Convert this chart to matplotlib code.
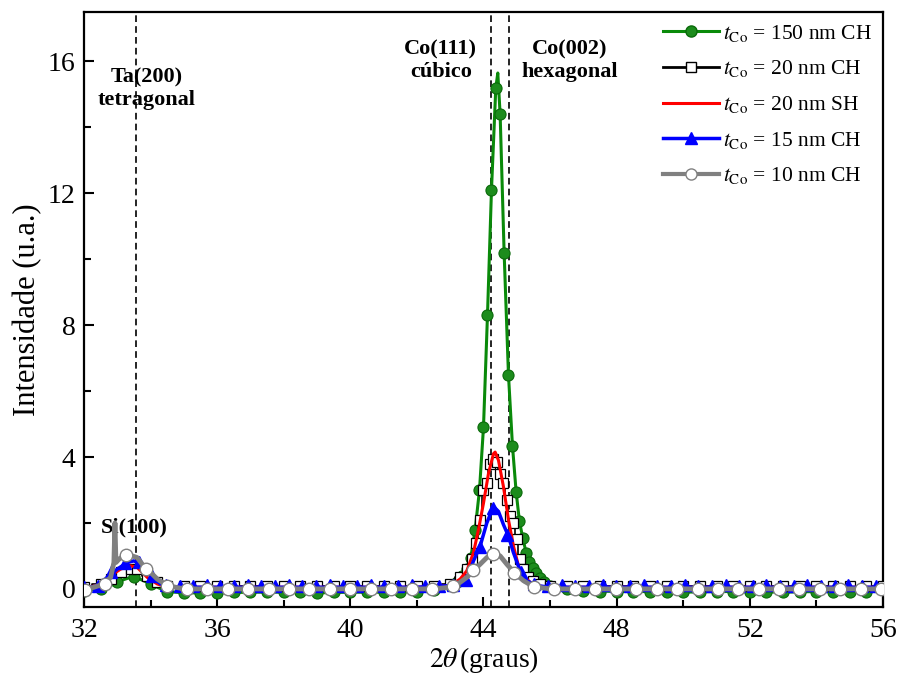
import numpy as np
import matplotlib
matplotlib.use('Agg')
import matplotlib.pyplot as plt

plt.rcParams['font.family'] = ['Liberation Serif', 'DejaVu Serif']
plt.rcParams['mathtext.fontset'] = 'stix'

# t_Co = 150 nm CH (verde)
verde_x = [32.0, 32.5, 32.8, 33.1, 33.4, 33.6, 33.9, 34.2, 34.5, 35.0, 36.0, 37.0, 38.0, 39.0, 40.0,
           41.0, 42.0, 42.6, 43.0, 43.2, 43.35, 43.5, 43.62, 43.75, 43.88, 44.0, 44.12, 44.24, 44.37,
           44.43, 44.5, 44.62, 44.75, 44.87, 44.98, 45.08, 45.18, 45.28, 45.38, 45.48, 45.58, 45.7,
           45.82, 46.0, 46.5, 47.0, 48.0, 49.0, 50.0, 51.0, 52.0, 53.0, 54.0, 55.0, 56.0]
verde_y = [-0.05, 0.0, 0.1, 0.25, 0.35, 0.33, 0.2, 0.05, -0.08, -0.12, -0.12, -0.1, -0.1, -0.12, -0.1,
           -0.1, -0.08, 0.0, 0.12, 0.22, 0.38, 0.6, 0.95, 1.8, 3.0, 4.9, 8.3, 12.1, 15.2,
           15.65, 14.4, 10.2, 6.5, 4.35, 2.95, 2.05, 1.55, 1.1, 0.83, 0.64, 0.48, 0.33,
           0.22, 0.1, 0.0, -0.05, -0.08, -0.08, -0.1, -0.08, -0.08, -0.1, -0.08, -0.08, -0.08]
verde_mx = [32.0, 32.5, 33.0, 33.5, 34.0, 34.5, 35.0, 35.5, 36.0, 36.5, 37.0, 37.5, 38.0, 38.5,
            39.0, 39.5, 40.0, 40.5, 41.0, 41.5, 42.0, 42.5, 43.0, 43.2, 43.35, 43.5, 43.62, 43.75,
            43.88, 44.0, 44.12, 44.24, 44.37, 44.5, 44.62, 44.75, 44.87, 44.98, 45.08, 45.18, 45.28,
            45.38, 45.48, 45.58, 45.7, 45.82, 46.0, 46.5, 47.0, 47.5, 48.0, 48.5, 49.0, 49.5, 50.0,
            50.5, 51.0, 51.5, 52.0, 52.5, 53.0, 53.5, 54.0, 54.5, 55.0, 55.5]
verde_my = [-0.05, 0.0, 0.2, 0.35, 0.15, -0.08, -0.12, -0.12, -0.12, -0.1, -0.1, -0.1, -0.1, -0.1,
            -0.12, -0.1, -0.1, -0.1, -0.1, -0.1, -0.08, -0.02, 0.12, 0.22, 0.38, 0.6, 0.95, 1.8,
            3.0, 4.9, 8.3, 12.1, 15.2, 14.4, 10.2, 6.5, 4.35, 2.95, 2.05, 1.55, 1.1,
            0.83, 0.64, 0.48, 0.33, 0.22, 0.1, 0.0, -0.05, -0.08, -0.08, -0.08, -0.08, -0.1, -0.1,
            -0.08, -0.08, -0.1, -0.08, -0.08, -0.1, -0.08, -0.08, -0.08, -0.08, -0.08]

# t_Co = 20 nm CH (preto)
preto_x = [32.0, 32.5, 32.8, 33.1, 33.4, 33.6, 33.9, 34.2, 34.5, 35.0, 35.5, 36.0, 36.5, 37.0, 37.5,
           38.0, 38.5, 39.0, 39.5, 40.0, 40.5, 41.0, 41.5, 42.0, 42.5, 43.0, 43.3, 43.5, 43.65,
           43.78, 43.9, 44.0, 44.1, 44.2, 44.3, 44.4, 44.5, 44.6, 44.7, 44.8, 44.9, 45.0, 45.1,
           45.2, 45.35, 45.5, 45.7, 46.0, 46.5, 47.0, 47.5, 48.0, 48.5, 49.0, 49.5, 50.0, 50.5,
           51.0, 51.5, 52.0, 52.5, 53.0, 53.5, 54.0, 54.5, 55.0, 55.5, 56.0]
preto_y = [0.05, 0.15, 0.3, 0.5, 0.6, 0.6, 0.4, 0.2, 0.1, 0.1, 0.1, 0.1, 0.1, 0.1, 0.1,
           0.1, 0.1, 0.1, 0.1, 0.1, 0.1, 0.1, 0.1, 0.1, 0.1, 0.15, 0.35, 0.6, 0.9,
           1.4, 2.1, 3.0, 3.2, 3.8, 3.95, 3.85, 3.5, 3.2, 2.7, 2.2, 2.0, 1.5, 0.9,
           0.6, 0.35, 0.25, 0.15, 0.1, 0.1, 0.1, 0.1, 0.1, 0.1, 0.1, 0.1, 0.1, 0.1,
           0.1, 0.1, 0.1, 0.1, 0.1, 0.1, 0.1, 0.1, 0.1, 0.1, 0.1]

# t_Co = 20 nm SH (vermelho)
vermelho_x = [32.0, 32.5, 32.8, 33.1, 33.4, 33.6, 33.9, 34.2, 34.5, 35.0, 36.0, 37.0, 38.0, 39.0,
              40.0, 41.0, 42.0, 43.0, 43.3, 43.5, 43.7, 43.85, 44.0, 44.15, 44.3, 44.35, 44.45,
              44.6, 44.75, 44.9, 45.05, 45.2, 45.4, 45.7, 46.0, 47.0, 48.0, 50.0, 52.0, 54.0, 56.0]
vermelho_y = [0.0, 0.15, 0.4, 0.6, 0.7, 0.65, 0.35, 0.15, 0.05, 0.05, 0.05, 0.05, 0.05, 0.05,
              0.05, 0.05, 0.05, 0.1, 0.3, 0.55, 1.1, 1.8, 2.6, 3.5, 4.1, 4.15, 3.9,
              3.1, 2.1, 1.3, 0.7, 0.4, 0.2, 0.08, 0.05, 0.05, 0.05, 0.05, 0.05, 0.05, 0.05]

# t_Co = 15 nm CH (azul)
azul_x = [32.0, 32.4, 32.7, 33.0, 33.3, 33.5, 33.7, 34.0, 34.3, 34.6, 35.0, 36.0, 37.0, 38.0, 39.0,
          40.0, 41.0, 42.0, 43.0, 43.3, 43.5, 43.7, 43.9, 44.1, 44.3, 44.45, 44.6, 44.75, 44.9,
          45.1, 45.3, 45.6, 46.0, 47.0, 48.0, 50.0, 52.0, 54.0, 56.0]
azul_y = [0.0, 0.1, 0.35, 0.6, 0.8, 0.85, 0.75, 0.4, 0.15, 0.05, 0.05, 0.05, 0.05, 0.05, 0.05,
          0.05, 0.05, 0.05, 0.1, 0.2, 0.3, 0.85, 1.3, 2.0, 2.5, 2.35, 1.95, 1.6, 1.1,
          0.55, 0.25, 0.1, 0.05, 0.05, 0.05, 0.05, 0.05, 0.05, 0.05]
azul_mx = [32.0, 32.41, 32.82, 33.23, 33.64, 34.05, 34.46, 34.87, 35.28, 35.69, 36.1, 36.51, 36.92,
           37.33, 37.74, 38.15, 38.56, 38.97, 39.38, 39.79, 40.2, 40.61, 41.02, 41.43, 41.84, 42.25,
           42.66, 43.07, 43.48, 43.89, 44.3, 44.71, 45.12, 45.53, 45.94, 46.35, 46.76, 47.17, 47.58,
           47.99, 48.4, 48.81, 49.22, 49.63, 50.04, 50.45, 50.86, 51.27, 51.68, 52.09, 52.5, 52.91,
           53.32, 53.73, 54.14, 54.55, 54.96, 55.37, 55.78]
azul_my = [0.05, 0.1, 0.5, 0.78, 0.82, 0.38, 0.12, 0.1, 0.1, 0.12, 0.1, 0.1, 0.12,
           0.1, 0.1, 0.12, 0.1, 0.1, 0.12, 0.1, 0.1, 0.12, 0.1, 0.1, 0.12, 0.1,
           0.1, 0.12, 0.28, 1.28, 2.45, 1.64, 0.5, 0.15, 0.1, 0.12, 0.1, 0.1, 0.12,
           0.1, 0.1, 0.12, 0.1, 0.1, 0.12, 0.1, 0.1, 0.12, 0.1, 0.1, 0.12, 0.1,
           0.1, 0.12, 0.1, 0.1, 0.12, 0.1, 0.1]

# t_Co = 10 nm CH (cinza)
cinza_x = [32.0, 32.3, 32.6, 32.8, 32.9, 32.93, 32.96, 33.05, 33.25, 33.45, 33.6, 33.75, 33.9, 34.2,
           34.5, 35.0, 36.0, 37.0, 38.0, 39.0, 40.0, 41.0, 42.0, 42.5, 43.0, 43.3, 43.5, 43.7, 43.9,
           44.1, 44.3, 44.5, 44.7, 44.94, 45.2, 45.5, 46.0, 47.0, 48.0, 50.0, 52.0, 54.0, 56.0]
cinza_y = [-0.02, 0.05, 0.15, 0.35, 0.8, 2.0, 0.8, 0.9, 1.05, 1.0, 0.95, 0.75, 0.6, 0.3,
           0.1, 0.0, 0.0, 0.0, 0.0, 0.0, 0.0, 0.0, 0.0, 0.0, 0.05, 0.2, 0.35, 0.56, 0.75,
           0.95, 1.08, 1.0, 0.75, 0.48, 0.25, 0.07, 0.0, 0.0, 0.0, 0.0, 0.0, 0.0, 0.0]
cinza_mx = [32.03, 32.64, 33.26, 33.87, 34.48, 35.09, 35.71, 36.32, 36.93, 37.55, 38.16, 38.77,
            39.39, 40.0, 40.61, 41.23, 41.84, 42.45, 43.07, 43.68, 44.29, 44.91, 45.52, 46.13,
            46.75, 47.36, 47.97, 48.59, 49.2, 49.81, 50.43, 51.04, 51.65, 52.27, 52.88, 53.49,
            54.11, 54.72, 55.33, 55.94]
cinza_my = [-0.02, 0.15, 1.03, 0.6, 0.09, 0.0, 0.0, 0.0, 0.0, 0.0, 0.0, 0.0,
            0.0, 0.0, 0.0, 0.0, 0.0, 0.0, 0.1, 0.56, 1.06, 0.48, 0.05, 0.0,
            0.0, 0.0, 0.0, 0.0, 0.0, 0.0, 0.0, 0.0, 0.0, 0.0, 0.0, 0.0,
            0.0, 0.0, 0.0, 0.0]

rotulos = [r'$t_{\mathrm{Co}}$ = 150 nm CH', r'$t_{\mathrm{Co}}$ = 20 nm CH',
           r'$t_{\mathrm{Co}}$ = 20 nm SH', r'$t_{\mathrm{Co}}$ = 15 nm CH',
           r'$t_{\mathrm{Co}}$ = 10 nm CH']

# picos de referencia
picos_x = [33.56, 44.22, 44.77]

fig = plt.figure(figsize=(8.98, 6.75), dpi=100)
ax = fig.add_axes([0.0935, 0.1007, 0.8898, 0.8815])

for xp in picos_x:
    ax.axvline(xp, color='black', ls=(0, (4, 2.5)), lw=1.2, zorder=1)

# verde
ax.plot(verde_x, verde_y, color='#0a8a0a', lw=2.2, zorder=2)
ax.plot(verde_mx, verde_my, ls='none', marker='o', ms=8, mfc='#1c8c1c', mec='#0a6a0a', mew=0.8, zorder=2)
# preto
ax.plot(preto_x, preto_y, color='black', lw=1.2, drawstyle='steps-mid', zorder=3)
ax.plot(preto_x, preto_y, ls='none', marker='s', ms=6.5, mfc='white', mec='black', mew=0.9, zorder=3)
# vermelho
ax.plot(vermelho_x, vermelho_y, color='#ff0000', lw=2.2, zorder=4)
# azul
ax.plot(azul_x, azul_y, color='#0000ff', lw=2.5, zorder=5)
ax.plot(azul_mx, azul_my, ls='none', marker='^', ms=8.5, mfc='#0000ff', mec='#0000ff', zorder=5)
# cinza
ax.plot(cinza_x, cinza_y, color='#808080', lw=3.5, zorder=6)
ax.plot(cinza_mx, cinza_my, ls='none', marker='o', ms=9, mfc='white', mec='#808080', mew=1.0, zorder=6)

# legenda
h = [
    plt.Line2D([], [], color='#0a8a0a', lw=2.2, marker='o', ms=8, mfc='#1c8c1c', mec='#0a6a0a'),
    plt.Line2D([], [], color='black', lw=2.0, marker='s', ms=6.5, mfc='white', mec='black'),
    plt.Line2D([], [], color='#ff0000', lw=2.2),
    plt.Line2D([], [], color='#0000ff', lw=2.5, marker='^', ms=8.5, mfc='#0000ff', mec='#0000ff'),
    plt.Line2D([], [], color='#808080', lw=3.0, marker='o', ms=8, mfc='white', mec='#808080'),
]
ax.legend(h, rotulos, loc='upper right', frameon=False, fontsize=15.5, handlelength=2.6,
          handletextpad=0.2, labelspacing=0.68, borderaxespad=0.4, borderpad=0.1)

# anotacoes
kw = dict(fontsize=16, fontweight='bold', ha='center', va='center', linespacing=1.15)
ax.text(33.89, 15.18, 'Ta(200)\ntetragonal', **kw)
ax.text(42.72, 16.03, 'Co(111)\ncúbico', **kw)
ax.text(46.6, 16.03, 'Co(002)\nhexagonal', **kw)
ax.text(33.5, 1.85, 'Si(100)', fontsize=16, fontweight='bold', ha='center', va='center')

ax.set_xlim(32, 56)
ax.set_ylim(-0.55, 17.5)
ax.set_xticks([32, 36, 40, 44, 48, 52, 56])
ax.set_xticks(np.arange(34, 56, 4), minor=True)
ax.set_yticks([0, 4, 8, 12, 16])
ax.set_yticks([2, 6, 10, 14], minor=True)
ax.tick_params(which='both', direction='in', top=False, right=False, labelsize=20, width=1.5)
ax.tick_params(which='major', length=7, pad=6)
ax.tick_params(axis='x', which='major', pad=8)
ax.tick_params(which='minor', length=5)
for s in ax.spines.values():
    s.set_linewidth(1.6)

ax.set_xlabel(r'$2\theta\,$(graus)', fontsize=20, labelpad=1)
ax.set_ylabel('Intensidade (u.a.)', fontsize=22, labelpad=4)

fig.savefig('out.png', dpi=100)
